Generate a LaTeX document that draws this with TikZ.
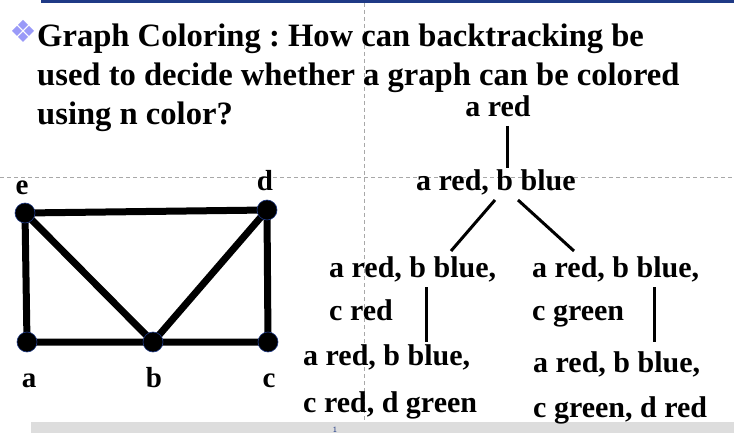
\documentclass[tikz,border=0pt]{standalone}
\usepackage{fontspec}
\setmainfont{Liberation Serif}
\newfontfamily\tnrb{Liberation Serif Bold}
\frenchspacing
\definecolor{topbar}{HTML}{1F3A86}
\definecolor{bullet}{HTML}{9A9AF8}
\definecolor{guide}{HTML}{A8A8A8}
\definecolor{footbar}{HTML}{DDDDDD}
\pgfdeclarelayer{bg}
\pgfdeclarelayer{edges}
\pgfsetlayers{bg,edges,main}
\begin{document}
\begin{tikzpicture}[x=1pt,y=-1pt,
  ttl/.style={inner sep=0pt,anchor=base west,font=\fontsize{32.6}{38}\selectfont\tnrb\frenchspacing},
  txt/.style={inner sep=0pt,font=\fontsize{30}{36}\selectfont\tnrb\frenchspacing},
  lbl/.style={inner sep=0pt,anchor=base,font=\fontsize{29}{34}\selectfont\tnrb},
  vtx/.style={circle,fill=black,draw=topbar,line width=0.6pt,minimum size=20pt,inner sep=0pt},
  edge/.style={line width=7pt},
  tline/.style={line width=3pt},
  guideline/.style={draw=guide,line width=0.8pt,dash pattern=on 4pt off 3pt}]
\useasboundingbox (0,0) rectangle (734,433);
\begin{pgfonlayer}{bg}
\fill[white] (0,0) rectangle (734,433);
\draw[guideline] (0,177) -- (734,177);
\draw[guideline] (364,3) -- (364,433);
\end{pgfonlayer}
% top bar and footer
\fill[topbar] (41,0) rectangle (734,3);
\fill[footbar] (31,422) rectangle (734,433);
\node[inner sep=0pt,anchor=base,text=topbar,font=\fontsize{8}{8}\selectfont\sffamily] (pg) at (335,432) {1};
% bullet
\foreach \dx/\dy in {0/-6,-6/0,6/0,0/6}{
  \fill[bullet] (23+\dx,31+\dy-5) -- (23+\dx+5,31+\dy) -- (23+\dx,31+\dy+5) -- (23+\dx-5,31+\dy) -- cycle;
}
% title
\node[ttl] (t1) at (37,47) {Graph Coloring : How can backtracking be};
\node[ttl] (t2) at (37,86) {used to decide whether a graph can be colored};
\node[ttl] (t3) at (37,125) {using n color?};
% graph
\node[vtx] (e) at (25,213) {};
\node[vtx] (d) at (267,210) {};
\node[vtx] (a) at (27,342) {};
\node[vtx] (b) at (153,342) {};
\node[vtx] (c) at (268,342) {};
\begin{pgfonlayer}{edges}
\draw[edge] (e.center) -- (d.center) (e.center) -- (a.center) (e.center) -- (b.center)
  (d.center) -- (b.center) (d.center) -- (c.center) (a.center) -- (b.center) (b.center) -- (c.center);
\end{pgfonlayer}
\node[lbl] (le) at (22,195) {e};
\node[lbl] (ld) at (265,190) {d};
\node[lbl] (la) at (29,387) {a};
\node[lbl] (lb) at (154,387) {b};
\node[lbl] (lc) at (269,387) {c};
% tree
\node[txt,anchor=base] (r0) at (498,117) {a red};
\node[txt,anchor=base west] (r1) at (416,190) {a red, b blue};
\node[txt,anchor=base west] (l1a) at (329,277) {a red, b blue,};
\node[txt,anchor=base west] (l1b) at (329,320) {c red};
\node[txt,anchor=base west] (q1a) at (532,277) {a red, b blue,};
\node[txt,anchor=base west] (q1b) at (532,320) {c green};
\node[txt,anchor=base west] (l2a) at (303,365) {a red, b blue,};
\node[txt,anchor=base west] (l2b) at (303,412) {c red, d green};
\node[txt,anchor=base west] (q2a) at (533,372) {a red, b blue,};
\node[txt,anchor=base west] (q2b) at (533,417) {c green, d red};
\coordinate (s0) at (507,126);
\coordinate (s1) at (507,168);
\coordinate (dl0) at (495,200);
\coordinate (dl1) at (451,251);
\coordinate (dr0) at (518,200);
\coordinate (dr1) at (574,251);
\coordinate (vl0) at (426,287);
\coordinate (vl1) at (426,342);
\coordinate (vr0) at (654,287);
\coordinate (vr1) at (654,342);
\draw[tline] (s0) -- (s1);
\draw[tline] (dl0) -- (dl1);
\draw[tline] (dr0) -- (dr1);
\draw[tline] (vl0) -- (vl1);
\draw[tline] (vr0) -- (vr1);
\end{tikzpicture}
\end{document}
